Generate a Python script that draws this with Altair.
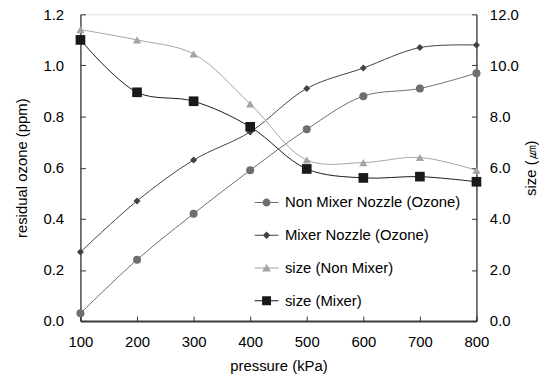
import altair as alt
import pandas as pd

pressure = [100, 200, 300, 400, 500, 600, 700, 800]
ozone_non_mixer = [0.03, 0.24, 0.42, 0.59, 0.75, 0.88, 0.91, 0.97]
ozone_mixer = [0.27, 0.47, 0.63, 0.74, 0.91, 0.99, 1.07, 1.08]
size_non_mixer = [11.4, 11.0, 10.45, 8.5, 6.3, 6.2, 6.4, 5.9]
size_mixer = [11.0, 8.95, 8.6, 7.6, 5.95, 5.6, 5.65, 5.45]

series_names = ["Non Mixer Nozzle (Ozone)", "Mixer Nozzle (Ozone)", "size (Non Mixer)", "size (Mixer)"]
series_colors = ["#6e6e6e", "#424242", "#a3a3a3", "#1a1a1a"]
x_ticks = [100, 200, 300, 400, 500, 600, 700, 800]
left_ticks = [0.0, 0.2, 0.4, 0.6, 0.8, 1.0, 1.2]
right_ticks = [0, 2, 4, 6, 8, 10, 12]

FONT = "Liberation Sans"
FS = 15
W, H = 399, 309

ozone_df = pd.DataFrame({
    "pressure": pressure * 2,
    "value": ozone_non_mixer + ozone_mixer,
    "series": [series_names[0]] * 8 + [series_names[1]] * 8,
})
size_df = pd.DataFrame({
    "pressure": pressure * 2,
    "value": size_non_mixer + size_mixer,
    "series": [series_names[2]] * 8 + [series_names[3]] * 8,
})
legend_df = pd.DataFrame({"series": series_names})

x_scale = alt.Scale(domain=[100, 800], nice=False, zero=False)
y_left = alt.Scale(domain=[0, 1.2], nice=False, zero=True)
y_right = alt.Scale(domain=[0, 12], nice=False, zero=True)

def x_main():
    return alt.X("pressure:Q", scale=x_scale, axis=alt.Axis(
        values=x_ticks, title="pressure (kPa)", format="d", grid=False,
        ticks=False, tickSize=0, labelPadding=14, titlePadding=9,
        labelFlush=False, labelOverlap=False,
        domainColor="#3a3a3a", domainWidth=2,
        labelFont=FONT, labelFontSize=FS, labelColor="#000",
        titleFont=FONT, titleFontSize=FS, titleFontWeight="normal", titleColor="#000"))

def x_ticks_axis():
    return alt.X("pressure:Q", scale=x_scale, axis=alt.Axis(
        values=x_ticks, orient="top", offset=-H, labels=False, domain=False,
        ticks=True, tickSize=5, tickColor="#333", grid=False, title=None))

def x_none():
    return alt.X("pressure:Q", scale=x_scale, axis=None)

oz_color = alt.Color("series:N", scale=alt.Scale(domain=series_names[:2], range=series_colors[:2]), legend=None)
sz_color = alt.Color("series:N", scale=alt.Scale(domain=series_names[2:], range=series_colors[2:]), legend=None)

ozone_line = alt.Chart(ozone_df).mark_line(strokeWidth=1, interpolate="catmull-rom").encode(
    x=x_main(),
    y=alt.Y("value:Q", scale=y_left, axis=alt.Axis(
        values=left_ticks, format=".1f", title="residual ozone (ppm)", grid=False,
        ticks=False, tickSize=0, labelPadding=17, titlePadding=14,
        labelFlush=False, labelOverlap=False,
        domainColor="#000", domainWidth=1,
        labelFont=FONT, labelFontSize=FS, labelColor="#000",
        titleFont=FONT, titleFontSize=FS, titleFontWeight="normal", titleColor="#000")),
    color=oz_color, detail="series:N",
)

ozone_points = alt.Chart(ozone_df).mark_point(filled=True, opacity=1).encode(
    x=x_ticks_axis(),
    y=alt.Y("value:Q", scale=y_left, axis=alt.Axis(
        values=left_ticks, orient="right", offset=-W, labels=False, domain=False,
        ticks=True, tickSize=5, tickColor="#333", grid=False, title=None)),
    color=oz_color,
    shape=alt.Shape("series:N", scale=alt.Scale(domain=series_names[:2], range=["circle", "diamond"]), legend=None),
    size=alt.Size("series:N", scale=alt.Scale(domain=series_names[:2], range=[65, 50]), legend=None),
)

size_line = alt.Chart(size_df).mark_line(strokeWidth=1, interpolate="catmull-rom").encode(
    x=x_none(),
    y=alt.Y("value:Q", scale=y_right, axis=alt.Axis(
        orient="right", values=right_ticks, format=".1f", title="size (㎛)", grid=False,
        ticks=False, tickSize=0, labelPadding=13, titlePadding=20, titleAngle=270,
        labelFlush=False, labelOverlap=False,
        domainColor="#000", domainWidth=1,
        labelFont=FONT, labelFontSize=FS, labelColor="#000",
        titleFont=FONT, titleFontSize=FS, titleFontWeight="normal", titleColor="#000")),
    color=sz_color, detail="series:N",
)

size_points = alt.Chart(size_df).mark_point(filled=True, opacity=1).encode(
    x=x_none(),
    y=alt.Y("value:Q", scale=y_right, axis=alt.Axis(
        values=right_ticks, orient="left", offset=-W, labels=False, domain=False,
        ticks=True, tickSize=5, tickColor="#333", grid=False, title=None)),
    color=sz_color,
    shape=alt.Shape("series:N", scale=alt.Scale(domain=series_names[2:], range=["triangle-up", "square"]), legend=None),
    size=alt.Size("series:N", scale=alt.Scale(domain=series_names[2:], range=[70, 95]), legend=None),
)

bar = "M-2.4,-0.1H2.4V0.1H-2.4Z"
legend_shapes = [
    bar + "M-0.8,0A0.8,0.8,0,1,1,0.8,0A0.8,0.8,0,1,1,-0.8,0Z",
    bar + "M0,-0.75L0.75,0L0,0.75L-0.75,0Z",
    bar + "M0,-0.8L0.9,0.7L-0.9,0.7Z",
    bar + "M-0.9,-0.9H0.9V0.9H-0.9Z",
]

def legend_cfg():
    return alt.Legend(
        orient="none", legendX=180, legendY=182, title=None,
        symbolSize=100, symbolStrokeWidth=0, labelOffset=11, rowPadding=17,
        labelLimit=0,
        labelFont=FONT, labelFontSize=FS, labelColor="#000")

legend_layer = alt.Chart(legend_df).mark_point(filled=True, opacity=1).encode(
    color=alt.Color("series:N", scale=alt.Scale(domain=series_names, range=series_colors), legend=legend_cfg()),
    shape=alt.Shape("series:N", scale=alt.Scale(domain=series_names, range=legend_shapes), legend=legend_cfg()),
).transform_filter("false")

chart = alt.layer(ozone_line, ozone_points, size_line, size_points, legend_layer).resolve_scale(
    y="independent", color="independent", shape="independent", size="independent"
).resolve_axis(x="independent", y="independent").properties(
    width=W, height=H,
    autosize=alt.AutoSizeParams(type="none"),
    padding={"left": 73, "top": 5, "right": 63, "bottom": 57},
).configure_view(stroke="#8a8a8a", strokeWidth=1).configure(background="white")

chart.save("out.html", embed_options={"renderer": "svg", "actions": False})
